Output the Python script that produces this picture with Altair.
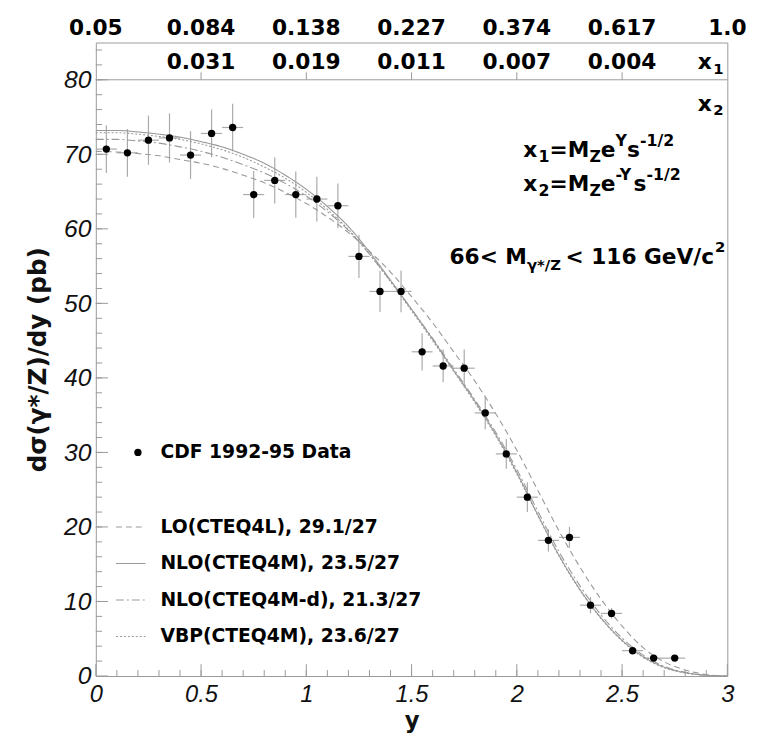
import altair as alt
import pandas as pd

# ---------------- data ----------------
Y_BINS = [0.05, 0.15, 0.25, 0.35, 0.45, 0.55, 0.65, 0.75, 0.85, 0.95,
          1.05, 1.15, 1.25, 1.35, 1.45, 1.55, 1.65, 1.75, 1.85, 1.95,
          2.05, 2.15, 2.25, 2.35, 2.45, 2.55, 2.65, 2.75]
XSEC = [70.7, 70.2, 71.9, 72.2, 69.9, 72.8, 73.6, 64.6, 66.5, 64.6,
        64.0, 63.1, 56.3, 51.6, 51.6, 43.5, 41.6, 41.3, 35.3, 29.8,
        24.0, 18.2, 18.6, 9.5, 8.4, 3.4, 2.4, 2.4]
ERR = [3.2, 3.2, 3.3, 3.3, 3.2, 3.2, 3.2, 3.15, 3.1, 3.1,
       3.0, 3.0, 2.9, 2.75, 2.8, 2.5, 2.2, 2.5, 2.2, 2.0,
       2.0, 1.5, 1.4, 1.1, 0.7, 0.55, 0.4, 0.4]
HALF_BIN = 0.05

CURVE_Y = [0.0, 0.1, 0.2, 0.3, 0.4, 0.5, 0.6, 0.7, 0.8, 0.9, 1.0,
           1.1, 1.2, 1.3, 1.4, 1.5, 1.6, 1.7, 1.8, 1.9, 2.0,
           2.1, 2.2, 2.3, 2.4, 2.5, 2.6, 2.7, 2.8, 2.9, 3.0]
LO = [70.4, 70.3, 70.1, 69.8, 69.3, 68.8, 68.1, 67.2, 66.2, 64.9, 63.4,
      61.6, 59.5, 57.0, 54.2, 50.9, 47.4, 43.5, 39.6, 35.2, 30.3,
      24.9, 19.5, 14.6, 10.3, 6.7, 3.8, 1.9, 0.8, 0.2, 0.0]
NLO = [73.2, 73.2, 73.0, 72.7, 72.3, 71.7, 71.0, 70.0, 68.8, 67.2, 65.3,
       63.0, 60.3, 56.9, 53.1, 49.2, 45.2, 41.0, 36.9, 32.4, 27.3,
       21.6, 16.2, 11.6, 7.8, 4.8, 2.6, 1.2, 0.45, 0.1, 0.0]
NLO_D = [72.0, 72.0, 71.8, 71.5, 71.0, 70.4, 69.6, 68.6, 67.5, 66.1, 64.4,
         62.3, 59.8, 56.6, 53.0, 49.2, 45.3, 41.2, 37.1, 32.7, 27.7,
         22.1, 16.7, 12.1, 8.2, 5.1, 2.8, 1.3, 0.5, 0.1, 0.0]
VBP = [72.9, 72.9, 72.7, 72.4, 72.0, 71.4, 70.6, 69.6, 68.3, 66.8, 64.9,
       62.6, 59.9, 56.6, 52.9, 49.0, 45.0, 40.9, 36.7, 32.2, 27.1,
       21.5, 16.1, 11.5, 7.7, 4.7, 2.5, 1.1, 0.4, 0.1, 0.0]

X_TICKS = [0, 0.5, 1.0, 1.5, 2.0, 2.5, 3.0]
X1_LABELS = ["0.05", "0.084", "0.138", "0.227", "0.374", "0.617", "1.0"]
X2_TICKS = [0.5, 1.0, 1.5, 2.0, 2.5]
X2_LABELS = ["0.031", "0.019", "0.011", "0.007", "0.004"]
Y_TICKS = [0, 10, 20, 30, 40, 50, 60, 70, 80]
X_MINOR = [i / 10 for i in range(1, 30)]
Y_MINOR = [i * 2 for i in range(1, 43)]

LEGEND_LABELS = ["CDF 1992-95 Data", "LO(CTEQ4L), 29.1/27", "NLO(CTEQ4M), 23.5/27",
                 "NLO(CTEQ4M-d), 21.3/27", "VBP(CTEQ4M), 23.6/27"]
LEGEND_Y = [30.0, 20.0, 15.1, 10.2, 5.3]

# ---------------- style ----------------
FB = "DejaVu Sans"
FI = "Liberation Sans"
GRAY = "#999999"
EGRAY = "#aaaaaa"
XS = alt.Scale(domain=[0, 3], nice=False, zero=False)
YS = alt.Scale(domain=[0, 85], nice=False, zero=False)

AX = alt.Axis(values=X_TICKS, ticks=False, domain=False, grid=False, labelFlush=False,
              labelOverlap=False, labelFont=FI, labelFontStyle="italic", labelFontSize=24,
              labelExpr="'' + datum.value",
              labelColor="#111", labelPadding=7, title="y", titleFont=FB, titleFontWeight="bold",
              titleFontSize=23, titleColor="#111", titlePadding=3)
AY = alt.Axis(values=Y_TICKS, ticks=False, domain=False, grid=False, labelFlush=False,
              labelOverlap=False, labelFont=FI, labelFontStyle="italic", labelFontSize=25,
              labelColor="#111", labelPadding=5, title="dσ(γ*/Z)/dy (pb)", titleFont=FB,
              titleFontWeight="bold", titleFontSize=25, titleColor="#111", titlePadding=13)


def X(f):
    return alt.X(f, type="quantitative", scale=XS, axis=AX)


def Y(f):
    return alt.Y(f, type="quantitative", scale=YS, axis=AY)


def XD(v):
    return alt.XDatum(v, type="quantitative", scale=XS, axis=AX)


def YD(v):
    return alt.YDatum(v, type="quantitative", scale=YS, axis=AY)


pts = pd.DataFrame({"y": Y_BINS, "v": XSEC, "e": ERR})
pts["lo"] = pts["v"] - pts["e"]
pts["hi"] = pts["v"] + pts["e"]
pts["xl"] = pts["y"] - HALF_BIN
pts["xh"] = pts["y"] + HALF_BIN

layers = []

# error bars
layers.append(alt.Chart(pts).mark_rule(color=EGRAY, strokeWidth=1.2).encode(
    x=X("y"), y=Y("lo"), y2="hi:Q"))
layers.append(alt.Chart(pts).mark_rule(color=EGRAY, strokeWidth=1.2).encode(
    x=X("xl"), x2="xh:Q", y=Y("v")))

# curves
styles = [(LO, [6, 4]), (NLO, [1, 0]), (NLO_D, [8, 3, 2, 3]), (VBP, [2, 2])]
for vals, dash in styles:
    dfc = pd.DataFrame({"y": CURVE_Y, "v": vals})
    layers.append(alt.Chart(dfc).mark_line(color=GRAY, strokeWidth=1.1, strokeDash=dash,
                                           interpolate="monotone").encode(x=X("y"), y=Y("v")))

# points
layers.append(alt.Chart(pts).mark_circle(color="black", opacity=1, size=55).encode(
    x=X("y"), y=Y("v")))

# inner ticks
tk = pd.DataFrame({"t": X_TICKS})
layers.append(alt.Chart(tk).mark_rule(color=GRAY).encode(x=X("t"), y=YD(0), y2=alt.datum(1.6)))
tkm = pd.DataFrame({"t": X_MINOR})
layers.append(alt.Chart(tkm).mark_rule(color=GRAY).encode(x=X("t"), y=YD(0), y2=alt.datum(0.8)))
ty = pd.DataFrame({"t": Y_TICKS})
layers.append(alt.Chart(ty).mark_rule(color=GRAY).encode(y=Y("t"), x=XD(0), x2=alt.datum(0.058)))
tym = pd.DataFrame({"t": Y_MINOR})
layers.append(alt.Chart(tym).mark_rule(color=GRAY).encode(y=Y("t"), x=XD(0), x2=alt.datum(0.03)))

# secondary axis line at 80 with ticks pointing up
layers.append(alt.Chart(pd.DataFrame({"a": [0], "b": [3], "v": [80]})).mark_rule(color=GRAY).encode(
    x=X("a"), x2="b:Q", y=Y("v")))
t2 = pd.DataFrame({"t": X2_TICKS})
layers.append(alt.Chart(t2).mark_rule(color=GRAY).encode(x=X("t"), y=YD(80), y2=alt.datum(81.0)))

# top labels
TXT = dict(font=FB, fontWeight="bold", fontSize=22, color="black", baseline="middle")
top1 = pd.DataFrame({"x": X_TICKS, "t": X1_LABELS, "v": [87.0] * len(X_TICKS)})
layers.append(alt.Chart(top1).mark_text(align="center", **TXT).encode(
    x=X("x"), y=Y("v"), text="t:N"))
top2 = pd.DataFrame({"x": X2_TICKS, "t": X2_LABELS, "v": [82.4] * len(X2_TICKS)})
layers.append(alt.Chart(top2).mark_text(align="center", **TXT).encode(
    x=X("x"), y=Y("v"), text="t:N"))

W = {'x': .712, '1': .696, '2': .696, '6': .696, '=': .838, 'M': .995, 'Z': .725, 'e': .678,
     'Y': .724, 's': .595, '-': .415, '/': .365, '<': .838, ' ': .348, '\u00a0': .348,
     'γ': .652, '*': .523, 'G': .821, 'V': .774, 'c': .593}


def rich(pieces, x0, y0):
    out = []
    dx = 0.0
    for piece in pieces:
        text, size, dy = piece[:3]
        adj = piece[3] if len(piece) > 3 else 0
        dx += adj
        d = pd.DataFrame({"x": [x0], "v": [y0], "t": [text]})
        out.append(alt.Chart(d).mark_text(font=FB, fontWeight="bold", fontSize=size, color="black",
                                          align="left", baseline="middle", dx=dx, dy=dy).encode(
            x=X("x"), y=Y("v"), text="t:N"))
        dx += sum(W.get(c, 0.6) for c in text) * size
    return out


layers += rich([("x", 22, 0), ("1", 15, 7)], 2.86, 82.4)
layers += rich([("x", 22, 0), ("2", 15, 7)], 2.86, 76.8)
layers += rich([("x", 22, 0), ("1", 16, 7), ("=M", 22, 0), ("Z", 16, 7), ("e", 22, 0),
                ("Y", 16, -9), ("s", 22, 0), ("-1/2", 16, -9)], 2.03, 70.6)
layers += rich([("x", 22, 0), ("2", 16, 7), ("=M", 22, 0), ("Z", 16, 7), ("e", 22, 0),
                ("-Y", 16, -9), ("s", 22, 0), ("-1/2", 16, -9)], 2.03, 66.0)
layers += rich([("66< M", 22, 0), ("γ*/Z", 15, 8), ("\u00a0< 116 GeV/c", 22, 0, 5),
                ("2", 15, -10, -7)], 1.68, 56.2)

# legend
leg = pd.DataFrame({"x": [0.307] * 5, "v": LEGEND_Y, "t": LEGEND_LABELS})
layers.append(alt.Chart(leg).mark_text(font=FB, fontWeight="bold", fontSize=19, color="black",
                                       align="left", baseline="middle").encode(
    x=X("x"), y=Y("v"), text="t:N"))
layers.append(alt.Chart(pd.DataFrame({"x": [0.2], "v": [LEGEND_Y[0]]})).mark_circle(
    color="black", opacity=1, size=55).encode(x=X("x"), y=Y("v")))
for (vals, dash), ly in zip(styles, LEGEND_Y[1:]):
    dl = pd.DataFrame({"a": [0.096], "b": [0.236], "v": [ly]})
    layers.append(alt.Chart(dl).mark_rule(color=GRAY, strokeWidth=1.1, strokeDash=dash).encode(
        x=X("a"), x2="b:Q", y=Y("v")))

chart = alt.layer(*layers).properties(
    width=640, height=642,
    autosize=alt.AutoSizeParams(type="none"),
    padding={"left": 89, "top": 30, "right": 25, "bottom": 70},
).configure_view(stroke=GRAY, strokeWidth=1)

chart.save("out.html", embed_options={"renderer": "svg", "actions": False})
